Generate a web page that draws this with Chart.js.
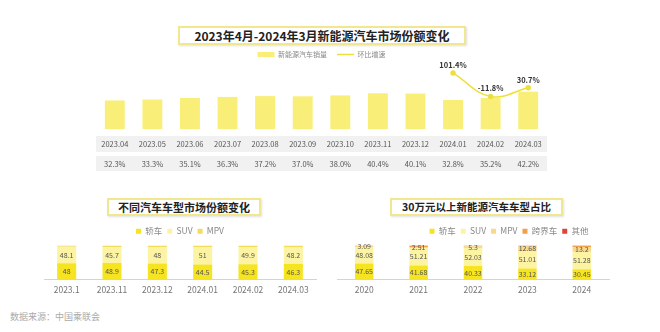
<!DOCTYPE html>
<html>
<head>
<meta charset="utf-8">
<script src="https://cdn.jsdelivr.net/npm/chart.js@4/dist/chart.umd.min.js"></script>
<style>
  body { margin: 0; width: 660px; height: 332px; background: #fff; position: relative; overflow: hidden;
         font-family: "Noto Sans CJK SC", "Noto Sans", sans-serif; }
  .box { position: absolute; border: 2px solid #f1e78f; box-sizing: border-box; text-align: center;
         font-weight: bold; color: #222; box-shadow: 1px 1px 2px rgba(0,0,0,.12); white-space: nowrap; }
  .wrap { position: absolute; }
  .src { position: absolute; left: 10px; top: 310px; font-size: 9px; color: #aaa; }
</style>
</head>
<body>
<div class="box" style="left:178px;top:26px;width:288px;height:19px;font-size:12px;line-height:15px;">2023年4月-2024年3月新能源汽车市场份额变化</div>
<div class="wrap" style="left:80px;top:41px;width:500px;height:140px;"><canvas id="top"></canvas></div>

<div class="box" style="left:107px;top:198px;width:154px;height:18px;font-size:11px;line-height:14px;">不同汽车车型市场份额变化</div>
<div class="wrap" style="left:30px;top:222px;width:295px;height:80px;"><canvas id="left"></canvas></div>

<div class="box" style="left:390px;top:198px;width:173px;height:18px;font-size:10.5px;line-height:14px;">30万元以上新能源汽车车型占比</div>
<div class="wrap" style="left:330px;top:222px;width:290px;height:80px;"><canvas id="right"></canvas></div>

<div class="src">数据来源：中国乘联会</div>

<script>
// 上图：新能源汽车市场份额 + 环比增速
let months = ["2023.04","2023.05","2023.06","2023.07","2023.08","2023.09","2023.10","2023.11","2023.12","2024.01","2024.02","2024.03"];
let nevShare = [32.3, 33.3, 35.1, 36.3, 37.2, 37.0, 38.0, 40.4, 40.1, 32.8, 35.2, 42.2];
let momGrowth = [null, null, null, null, null, null, null, null, null, 101.4, -11.8, 30.7];

// 左下：不同车型份额
let typeMonths = ["2023.1","2023.11","2023.12","2024.01","2024.02","2024.03"];
let sedanShare = [48, 48.9, 47.3, 44.5, 45.3, 46.3];
let suvShare = [48.1, 45.7, 48, 51, 49.9, 48.2];
let mpvShare = [3.9, 5.4, 4.7, 4.5, 4.8, 5.5];

// 右下：30万元以上新能源车型占比
let years = ["2020","2021","2022","2023","2024"];
let hiSedan = [47.65, 41.68, 40.33, 33.12, 30.45];
let hiSuv = [48.08, 51.21, 52.03, 51.01, 51.28];
let hiMpv = [3.09, 2.51, 5.3, 12.68, 13.2];
let hiCross = [0.9, 3.5, 1.8, 2.4, 3.9];
let hiOther = [0.28, 1.1, 0.54, 0.79, 1.17];

const FONT = "Noto Sans CJK SC";

// 在柱子/点上写数值
function makeLabels(sets, font, color, suffix) {
  return {
    id: 'valueLabels',
    afterDatasetsDraw(chart) {
      const ctx = chart.ctx;
      ctx.save();
      ctx.font = font;
      ctx.fillStyle = color;
      ctx.textAlign = 'center';
      ctx.textBaseline = 'middle';
      sets.forEach(di => {
        const ds = chart.data.datasets[di];
        chart.getDatasetMeta(di).data.forEach((el, i) => {
          const v = ds.data[i];
          if (v == null) return;
          const y = ds.type === 'line' ? el.y - 8 : (el.y + el.base) / 2;
          ctx.fillText(v + suffix, el.x, y);
        });
      });
      ctx.restore();
    }
  };
}

// 表格底色
const tableBands = {
  id: 'tableBands',
  beforeDraw(chart) {
    const {ctx, chartArea} = chart;
    ctx.save();
    ctx.fillStyle = '#f1f1f1';
    ctx.fillRect(chartArea.left, chartArea.bottom + 7, chartArea.right - chartArea.left, 16);
    ctx.fillRect(chartArea.left, chartArea.bottom + 27, chartArea.right - chartArea.left, 15);
    ctx.restore();
  }
};

// 图例右移
function shiftLegend(dx) {
  return {
    id: 'shiftLegend',
    afterLayout(chart) {
      chart.legend.left += dx;
      chart.legend.right += dx;
    }
  };
}

new Chart(document.getElementById('top'), {
  data: {
    labels: months,
    datasets: [
      { type: 'bar', label: '新能源汽车销量', data: nevShare, backgroundColor: '#f9ef78',
        barPercentage: 0.53, categoryPercentage: 1, yAxisID: 'y', order: 1 },
      { type: 'line', label: '环比增速', data: momGrowth, borderColor: '#ede03c', backgroundColor: '#ede03c',
        borderWidth: 1.5, tension: 0.4, pointRadius: 2, pointBackgroundColor: '#ede03c', yAxisID: 'y1', order: 0 }
    ]
  },
  options: {
    responsive: true,
    maintainAspectRatio: false,
    animation: false,
    layout: { padding: { left: 16, right: 33, top: 0, bottom: 2 } },
    scales: {
      x: {
        grid: { display: false, drawTicks: false },
        border: { display: false },
        ticks: {
          autoSkip: false, maxRotation: 0, padding: 5, color: '#555',
          font: { family: FONT, size: 7.5, lineHeight: 20 / 7.5 },
          callback: (v, i) => [months[i], nevShare[i].toFixed(1) + '%']
        }
      },
      y: { display: false, min: 0, max: 69 },
      y1: { display: false, min: -167.5, max: 125 }
    },
    plugins: {
      tooltip: { enabled: false },
      legend: {
        labels: {
          usePointStyle: true, pointStyleWidth: 17, boxHeight: 5, padding: 10, color: '#888',
          font: { family: FONT, size: 7 },
          sort: (a, b) => a.datasetIndex - b.datasetIndex,
          generateLabels(chart) {
            const items = Chart.defaults.plugins.legend.labels.generateLabels(chart);
            items.forEach(it => { it.pointStyle = it.datasetIndex === 0 ? 'rect' : 'line'; });
            return items;
          }
        }
      }
    }
  },
  plugins: [tableBands, makeLabels([1], "bold 7.5px " + FONT, '#333', '%')]
});

function stackOptions(pad) {
  return {
    responsive: true,
    maintainAspectRatio: false,
    animation: false,
    layout: { padding: pad },
    scales: {
      x: {
        stacked: true,
        grid: { display: false, drawTicks: false },
        border: { display: true, color: '#d4d4d4' },
        ticks: { padding: 5, color: '#777', maxRotation: 0, font: { family: FONT, size: 8.5 } }
      },
      y: { stacked: true, display: false, min: 0, max: 100 }
    },
    plugins: {
      tooltip: { enabled: false },
      legend: {
        labels: { boxWidth: 5, boxHeight: 5, padding: 5, color: '#888', font: { family: FONT, size: 8.5 } }
      }
    }
  };
}

new Chart(document.getElementById('left'), {
  type: 'bar',
  data: {
    labels: typeMonths,
    datasets: [
      { label: '轿车', data: sedanShare, backgroundColor: '#f6e420', barPercentage: 0.42, categoryPercentage: 1 },
      { label: 'SUV', data: suvShare, backgroundColor: '#fcf4a2', barPercentage: 0.42, categoryPercentage: 1 },
      { label: 'MPV', data: mpvShare, backgroundColor: '#f2dc5c', barPercentage: 0.42, categoryPercentage: 1 }
    ]
  },
  options: stackOptions({ left: 14, right: 9, top: 0, bottom: 2 }),
  plugins: [makeLabels([0, 1], "7px " + FONT, '#555', '')]
});

new Chart(document.getElementById('right'), {
  type: 'bar',
  data: {
    labels: years,
    datasets: [
      { label: '轿车', data: hiSedan, backgroundColor: '#f6e420', barPercentage: 0.34, categoryPercentage: 1 },
      { label: 'SUV', data: hiSuv, backgroundColor: '#fcf4a2', barPercentage: 0.34, categoryPercentage: 1 },
      { label: 'MPV', data: hiMpv, backgroundColor: '#f8d98a', barPercentage: 0.34, categoryPercentage: 1 },
      { label: '跨界车', data: hiCross, backgroundColor: '#f2a04a', barPercentage: 0.34, categoryPercentage: 1 },
      { label: '其他', data: hiOther, backgroundColor: '#d9483a', barPercentage: 0.34, categoryPercentage: 1 }
    ]
  },
  options: stackOptions({ left: 7, right: 11, top: 0, bottom: 2 }),
  plugins: [makeLabels([0, 1, 2], "7px " + FONT, '#555', ''), shiftLegend(36)]
});
</script>
</body>
</html>
